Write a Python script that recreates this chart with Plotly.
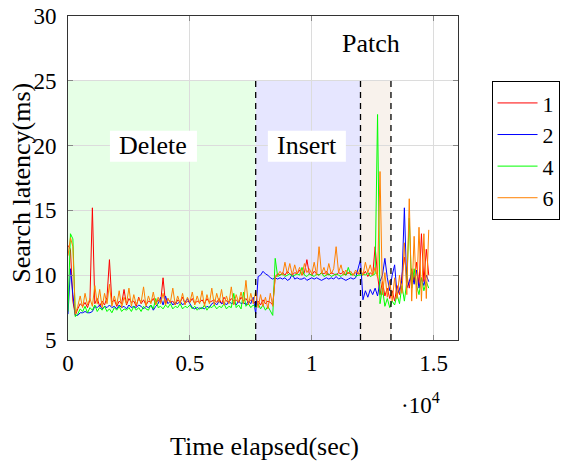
import plotly.graph_objects as go

# ---- data ----
STEP = 100  # sampling step in seconds
red = [
    12.3, 12.0, 8.0, 6.9,
    # 400-7600
    7.4, 7.8, 7.6, 7.9, 7.5, 8.1, 15.2, 7.8, 8.2, 7.6, 8.0, 7.7, 8.3, 11.2, 7.9, 8.1,
    7.6, 8.0, 7.8, 8.9, 7.7, 8.2, 7.9, 8.0, 7.6, 8.3, 7.8, 8.1, 7.7, 8.0, 7.9, 8.2,
    7.8, 8.1, 7.9, 9.8, 7.8, 8.2, 7.9, 8.0, 7.7, 8.1, 7.9, 8.3, 7.8, 8.0, 7.9, 8.2,
    7.8, 8.0, 7.9, 8.1, 7.8, 8.2, 7.9, 8.0, 8.1, 7.9, 8.2, 7.8, 8.3, 8.0, 7.9, 8.2,
    8.0, 8.1, 7.9, 8.3, 8.0, 8.2, 7.9, 8.1, 8.0,
    # 7700-8500
    7.8, 8.0, 7.7, 8.1, 7.8, 8.0, 7.9, 7.7, 9.9,
    # 8600-11900
    10.1, 10.0, 10.2, 10.0, 10.3, 10.1, 10.0, 10.2, 10.1, 10.4, 10.0, 10.2, 11.2, 10.1,
    10.0, 10.3, 10.1, 10.0, 10.2, 10.1, 10.3, 10.0, 10.2, 10.1, 10.0, 10.2, 10.1, 10.3,
    10.0, 10.2, 10.1, 10.0, 10.2, 10.1,
    # 12000-14800
    10.1, 10.0, 10.3, 9.9, 10.2, 10.0, 12.2, 10.0, 8.5, 9.5, 8.4, 9.0, 8.2, 8.8, 8.0,
    9.2, 8.5, 9.8, 11.4, 10.0, 9.0, 10.5, 9.5, 11.0, 9.2, 13.2, 9.5, 12.0, 10.0,
]
blue = [
    7.0, 10.5, 8.5, 6.9,
    # 400-7600
    6.9, 7.1, 7.1, 7.2, 7.1, 7.1, 7.2, 7.6, 7.5, 7.7, 7.4, 7.6, 7.5, 7.7, 7.5, 7.6,
    7.4, 7.7, 7.5, 7.6, 7.4, 7.7, 7.5, 7.6, 7.5, 7.7, 7.6, 7.4, 7.6, 7.5, 7.7, 7.3,
    7.6, 7.8, 8.3, 7.7, 8.4, 7.8, 8.0, 7.7, 7.9, 7.8, 8.0, 7.7, 7.9, 8.2, 7.8, 7.5,
    7.4, 7.5, 7.4, 7.5, 7.4, 7.6, 7.5, 7.8, 7.9, 7.7, 8.0, 7.8, 7.9, 7.7, 8.0, 7.8,
    7.9, 7.7, 8.0, 7.8, 7.9, 7.7, 8.0, 7.8, 8.3,
    # 7700-8500
    7.0, 9.9, 10.0, 10.3, 10.1, 10.0, 9.8, 9.7, 9.8,
    # 8600-11900
    9.7, 9.8, 9.7, 9.8, 9.6, 9.7, 10.1, 9.7, 9.8, 9.7, 9.7, 9.8, 9.6, 9.7, 9.8, 9.7,
    9.8, 9.7, 9.6, 9.7, 9.8, 9.7, 9.8, 9.7, 9.9, 9.7, 9.8, 9.7, 9.6, 9.7, 9.8, 9.7,
    9.8, 10.5,
    # 12000-14800
    11.2, 8.1, 8.8, 8.3, 8.9, 8.5, 9.0, 8.4, 9.5, 10.0, 11.3, 9.8, 8.8, 10.0, 10.8,
    8.5, 8.9, 9.6, 15.2, 9.0, 9.5, 10.2, 9.3, 10.4, 9.0, 9.8, 9.2, 10.0, 9.5,
]
green = [
    7.2, 13.2, 12.8, 6.8,
    # 400-7600
    7.0, 7.4, 7.2, 7.6, 7.1, 7.5, 7.3, 7.7, 7.2, 7.5, 7.3, 7.6, 7.2, 7.4, 7.1, 7.5,
    7.3, 7.6, 7.2, 7.4, 7.3, 7.5, 7.2, 7.6, 7.3, 7.5, 7.2, 7.6, 7.4, 7.3, 7.7, 7.4,
    8.2, 7.5, 7.6, 7.4, 7.7, 7.5, 7.8, 7.4, 7.6, 7.5, 7.8, 7.4, 7.6, 7.5, 7.7, 7.4,
    7.6, 7.3, 7.5, 7.4, 7.7, 7.3, 7.6, 7.5, 7.7, 7.4, 7.6, 7.5, 7.8, 7.4, 7.6, 7.5,
    8.6, 7.5, 7.7, 7.4, 8.7, 7.6, 7.8, 7.5, 7.7,
    # 7700-8500
    7.5, 7.8, 7.4, 7.7, 7.3, 7.6, 7.2, 6.9, 11.3,
    # 8600-11900
    9.9, 10.0, 10.1, 9.9, 10.0, 10.1, 9.9, 10.0, 10.1, 10.0, 10.6, 10.0, 9.9, 10.1,
    10.0, 9.9, 10.1, 10.0, 10.2, 9.9, 10.0, 10.1, 9.9, 10.0, 10.1, 10.0, 9.9, 10.1,
    10.0, 10.6, 10.0, 10.1, 9.9, 10.0,
    # 12000-14800
    10.0, 10.1, 10.0, 10.2, 9.9, 10.0, 10.1, 22.4, 7.8, 9.0, 7.6, 8.2, 7.5, 8.0, 7.7,
    8.5, 7.8, 9.2, 8.0, 9.5, 14.4, 9.0, 10.5, 9.2, 8.5, 9.8, 8.8, 9.5, 9.0,
]
orange = [
    11.5, 12.9, 12.2, 7.0,
    # 400-7600
    7.6, 8.4, 7.5, 8.6, 7.7, 8.2, 7.6, 9.2, 7.8, 8.9, 7.5, 8.6, 7.8, 9.3, 7.6, 8.4,
    7.7, 8.8, 7.5, 8.3, 7.8, 9.0, 7.6, 8.5, 7.7, 8.2, 7.9, 9.1, 7.6, 8.4, 7.8, 8.7,
    7.7, 8.3, 7.8, 8.6, 7.7, 8.2, 7.9, 9.0, 7.7, 8.4, 7.8, 8.6, 7.7, 8.3, 7.9, 8.7,
    7.7, 8.4, 7.8, 8.8, 7.6, 8.5, 7.8, 9.0, 7.7, 8.6, 7.9, 8.9, 7.7, 8.4, 7.8, 9.1,
    7.7, 8.5, 7.9, 8.7, 7.8, 9.6, 7.7, 8.6, 7.8,
    # 7700-8500
    8.8, 7.5, 8.5, 7.6, 8.3, 7.4, 8.6, 7.6, 9.8,
    # 8600-11900
    10.0, 10.3, 10.0, 11.0, 10.1, 10.9, 10.0, 10.8, 10.1, 10.6, 10.0, 10.9, 10.2, 10.5,
    10.1, 11.0, 10.0, 12.2, 10.1, 10.6, 10.0, 10.9, 10.1, 10.5, 12.2, 10.2, 10.8, 10.0,
    10.4, 10.1, 10.3, 10.0, 10.4, 10.1,
    # 12000-14800
    10.5, 10.0, 11.0, 10.2, 10.8, 10.0, 10.6, 9.8, 18.0, 8.5, 10.2, 8.3, 9.6, 8.0, 9.8,
    8.2, 10.0, 8.6, 12.5, 8.5, 15.9, 8.0, 13.0, 8.2, 13.7, 8.0, 13.2, 8.2, 13.5,
]
series_names = ["1", "2", "4", "6"]
series_colors = ["#ff0000", "#0000ff", "#00ff00", "#ff8000"]
phase_names = ["Delete", "Insert", "Patch"]
phase_bounds = [(0, 7700), (7700, 12000), (12000, 13250)]
phase_fills = ["#e6ffe6", "#e6e6ff", "#f8f2ec"]
x_ticks = [0, 5000, 10000, 15000]
x_tick_text = ["0", "0.5", "1", "1.5"]
y_ticks = [5, 10, 15, 20, 25, 30]

t = [i * STEP for i in range(len(red))]

FONT = "Liberation Serif"
fig = go.Figure()

for (x0, x1), col in zip(phase_bounds, phase_fills):
    fig.add_shape(type="rect", x0=x0, x1=x1, y0=5, y1=25, xref="x", yref="y",
                  fillcolor=col, line_width=0, layer="below")
for xv in [7700, 12000, 13250]:
    fig.add_shape(type="line", x0=xv, x1=xv, y0=5, y1=25, xref="x", yref="y",
                  line=dict(color="black", width=1.3, dash="6px,5px"), layer="above")

# white label boxes
for bx0, bx1 in [(1720, 5290), (8200, 11400)]:
    fig.add_shape(type="rect", x0=bx0, x1=bx1, y0=18.75, y1=21.15, xref="x", yref="y",
                  fillcolor="white", line_width=0, layer="above")

for ys, nm, col in zip([red, blue, green, orange], series_names, series_colors):
    fig.add_trace(go.Scatter(x=t, y=ys, mode="lines", name=nm, legendgroup=nm,
                             line=dict(color=col, width=1)))

def label(**kw):
    fig.add_annotation(showarrow=False, xanchor="center", yanchor="middle", **kw)

label(x=3500, y=20.0, text="Delete", font=dict(family=FONT, size=26, color="black"))
label(x=9800, y=20.0, text="Insert", font=dict(family=FONT, size=26, color="black"))
label(x=12450, y=27.85, text="Patch", font=dict(family=FONT, size=26, color="black"))
label(xref="paper", yref="paper", x=0.903, y=-0.195, text="·10<sup>4</sup>",
      font=dict(family=FONT, size=23, color="black"))
label(xref="paper", yref="paper", x=0.505, y=-0.33, text="Time elapsed(sec)",
      font=dict(family=FONT, size=26, color="black"))
label(xref="paper", yref="paper", x=-0.12, y=0.486, text="Search latency(ms)",
      textangle=-90, font=dict(family=FONT, size=26, color="black"))

axis_common = dict(showgrid=True, gridcolor="#dcdcdc", gridwidth=1, zeroline=False,
                   showline=True, linecolor="#333333", linewidth=1, mirror="allticks",
                   ticks="inside", ticklen=5, tickcolor="#888888",
                   ticklabeloverflow="allow", automargin=False,
                   tickfont=dict(family=FONT, size=23, color="black"))
fig.update_xaxes(range=[0, 16000], tickvals=x_ticks, ticktext=x_tick_text,
                 ticklabelstandoff=2, **axis_common)
fig.update_yaxes(range=[5, 30], tickvals=y_ticks, ticklabelstandoff=6, **axis_common)

fig.update_layout(
    width=574, height=464,
    margin=dict(l=68, r=116, t=16, b=124, autoexpand=False),
    plot_bgcolor="white", paper_bgcolor="white",
    font=dict(family=FONT, size=23, color="black"),
    showlegend=True,
    legend=dict(x=1.086, y=0.799, xanchor="left", yanchor="top",
                bordercolor="black", borderwidth=1, bgcolor="white",
                font=dict(family=FONT, size=22, color="black"),
                tracegroupgap=0, itemwidth=40),
)

fig.write_html("out.html", config={"displayModeBar": False},
               post_script="document.body.style.margin='0';document.body.style.overflow='hidden';")
